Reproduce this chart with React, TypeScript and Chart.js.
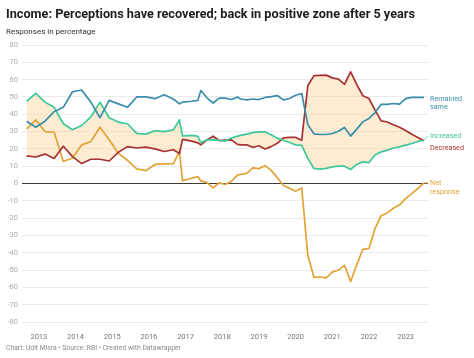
import React, { useEffect, useRef } from 'react';
import { Chart, registerables } from 'chart.js';

Chart.register(...registerables);

const surveyDates = [
  '2012-09', '2012-12', '2013-03', '2013-06', '2013-09', '2013-12', '2014-03', '2014-06', '2014-09', '2014-12',
  '2015-03', '2015-06', '2015-09', '2015-12', '2016-03', '2016-06', '2016-09', '2016-11', '2016-12', '2017-03',
  '2017-05', '2017-06', '2017-08', '2017-10', '2017-12', '2018-02', '2018-04', '2018-06', '2018-07', '2018-09',
  '2018-11', '2019-01', '2019-03', '2019-05', '2019-07', '2019-09', '2019-11', '2020-01', '2020-03', '2020-05',
  '2020-07', '2020-09', '2020-11', '2021-01', '2021-03', '2021-05', '2021-07', '2021-09', '2021-11', '2022-01',
  '2022-03', '2022-05', '2022-07', '2022-09', '2022-11', '2023-01', '2023-03', '2023-05', '2023-07',
];

const remainedSame = [
  36, 32.5, 36, 41.5, 44, 53, 54, 47, 38, 48,
  46, 44, 50, 50, 49, 51.3, 48.8, 46, 47, 47.5,
  48, 53.7, 49.5, 46.5, 49.3, 49.3, 48.5, 50, 48.8, 48.3,
  48.8, 48.5, 49.7, 50.2, 50.8, 48.3, 49.1, 51, 52, 34,
  28.7, 28.3, 28.3, 28.9, 30.2, 32.4, 27.4, 31.4, 35.6, 37.6,
  41, 45.7, 45.7, 46.2, 45.8, 49, 49.7, 49.7, 49.7,
];

const increased = [
  47.5, 52, 47, 44, 34.5, 31, 33.5, 38.5, 47, 38,
  35.5, 34.5, 29, 28.5, 30.5, 30, 31, 36.8, 27.5, 27.8,
  27.3, 23.5, 25.3, 25, 25, 24.5, 26.3, 27.4, 27.8, 28.5,
  29.4, 29.8, 29.8, 28.2, 26.2, 25, 23.7, 22.3, 22, 14.5,
  8.7, 8.3, 8.7, 9.6, 10, 10, 8.1, 11, 12.5, 12.1,
  16.5, 18.3, 19.3, 20.5, 21.2, 22.2, 23.1, 24.3, 25,
];

const decreased = [
  16, 15.3, 17, 14.5, 21.5, 15.5, 11.5, 14, 14, 13,
  18, 21.3, 20.5, 21, 20, 18.5, 19.5, 17.3, 25.5, 24.5,
  23.5, 22.3, 25.2, 27.3, 24.8, 25, 25.2, 22.6, 22.3, 22.3,
  20.9, 21.8, 19.9, 21.3, 23.2, 26.4, 26.6, 26.6, 25, 56.5,
  62.3, 62.5, 62.6, 61, 60.3, 57.2, 64.5, 57.2, 50.7, 49.1,
  42.4, 36.2, 35.5, 33.9, 32.5, 30.6, 28.4, 26.6, 24.7,
];

const netResponse = [
  31.5, 36.7, 30, 29.6, 12.7, 14.7, 22.3, 24.3, 32.5, 25.3,
  17.4, 13.4, 8.4, 7.4, 11, 11.3, 11.4, 18.5, 1.5, 3,
  4, 1.5, 0.5, -2.5, 0.4, -0.6, 1.3, 4.8, 5.2, 5.8,
  9, 8.6, 10.3, 7.6, 3.4, -1.2, -2.8, -4.5, -2.6, -41.5,
  -54.2, -54, -54.5, -51.2, -50, -47.3, -56.6, -47, -38, -37.5,
  -26, -18.6, -17, -14.3, -12.3, -8.7, -5.8, -2.9, 0.3,
];

const yearTicks = [2013, 2014, 2015, 2016, 2017, 2018, 2019, 2020, 2021, 2022, 2023];

const TITLE = 'Income: Perceptions have recovered; back in positive zone after 5 years';
const SUBTITLE = 'Responses in percentage';
const FOOTER = 'Chart: Udit Misra • Source: RBI • Created with Datawrapper';

const TEAL = '#3a8dab';
const GREEN = '#3ec79a';
const RED = '#a83232';
const ORANGE = '#e2a334';
const FILL = 'rgba(252, 216, 160, 0.48)';
const FONT = 'Roboto, "Noto Sans", sans-serif';

function toYear(d: string): number {
  const [y, m] = d.split('-').map(Number);
  return y + (m - 1) / 12;
}

function pts(values: number[]) {
  return values.map((v, i) => ({ x: toYear(surveyDates[i]), y: v }));
}

const annotations = {
  id: 'annotations',
  afterDraw(chart: any) {
    const { ctx, scales } = chart;
    const x = scales.x;
    const y = scales.y;
    const last = surveyDates.length - 1;
    const lastX = x.getPixelForValue(toYear(surveyDates[last]));
    const lx = 430;
    ctx.save();
    ctx.textAlign = 'left';
    ctx.textBaseline = 'alphabetic';

    ctx.fillStyle = '#1d1d1d';
    ctx.font = `bold 12.7px ${FONT}`;
    ctx.fillText(TITLE, 6, 18);
    ctx.fillStyle = '#333';
    ctx.font = `8px ${FONT}`;
    ctx.fillText(SUBTITLE, 6, 34);
    ctx.fillStyle = '#8a8a8a';
    ctx.font = `6.8px ${FONT}`;
    ctx.fillText(FOOTER, 6, 350);

    ctx.textBaseline = 'middle';
    ctx.font = `7.2px ${FONT}`;

    const yT = y.getPixelForValue(remainedSame[last]);
    ctx.fillStyle = TEAL;
    ctx.fillText('Remained', lx, yT + 1.5);
    ctx.fillText('same', lx, yT + 10);

    const yG = y.getPixelForValue(increased[last]);
    ctx.strokeStyle = GREEN;
    ctx.lineWidth = 0.8;
    ctx.beginPath();
    ctx.moveTo(lastX, yG);
    ctx.lineTo(lx - 2, yG - 4);
    ctx.stroke();
    ctx.fillStyle = GREEN;
    ctx.fillText('Increased', lx, yG - 4);

    const yR = y.getPixelForValue(decreased[last]);
    ctx.fillStyle = RED;
    ctx.fillText('Decreased', lx, yR + 7);

    const yN = y.getPixelForValue(netResponse[last]);
    ctx.strokeStyle = ORANGE;
    ctx.beginPath();
    ctx.moveTo(lastX, yN);
    ctx.lineTo(lx - 2, yN);
    ctx.stroke();
    ctx.fillStyle = ORANGE;
    ctx.fillText('Net', lx, yN + 0.5);
    ctx.fillText('response', lx, yN + 9);
    ctx.restore();
  },
};

export default function App() {
  const ref = useRef<HTMLCanvasElement | null>(null);

  useEffect(() => {
    if (!ref.current) return;
    const chart = new Chart(ref.current, {
      type: 'line',
      data: {
        datasets: [
          { label: 'Remained same', data: pts(remainedSame), borderColor: TEAL, fill: false },
          {
            label: 'Increased',
            data: pts(increased),
            borderColor: GREEN,
            fill: { target: 2, above: FILL, below: FILL },
          },
          { label: 'Decreased', data: pts(decreased), borderColor: RED, fill: false },
          { label: 'Net response', data: pts(netResponse), borderColor: ORANGE, fill: false },
        ],
      },
      options: {
        animation: false,
        responsive: false,
        maintainAspectRatio: false,
        layout: { padding: { top: 45, right: 46, bottom: 0, left: 0 } },
        elements: {
          point: { radius: 0, hoverRadius: 0 },
          line: { tension: 0, borderWidth: 1.7, borderJoinStyle: 'round' },
        },
        plugins: {
          legend: { display: false },
          tooltip: { enabled: false },
          title: { display: false },
          filler: { drawTime: 'beforeDatasetsDraw' },
        } as any,
        scales: {
          x: {
            type: 'linear',
            min: 2012.54,
            max: 2023.61,
            grid: { display: false },
            border: { display: false },
            afterBuildTicks: (s: any) => {
              s.ticks = yearTicks.map((v) => ({ value: v }));
            },
            afterFit: (s: any) => {
              s.height = 36;
            },
            ticks: {
              callback: (v: any) => String(v),
              font: { family: FONT, size: 7.5 },
              color: '#777',
              padding: 3,
              maxRotation: 0,
              autoSkip: false,
            },
          },
          y: {
            min: -80,
            max: 80,
            border: { display: false },
            grid: {
              color: (c: any) => (c.tick && c.tick.value === 0 ? '#3a3a3a' : '#ebebeb'),
              lineWidth: 1,
              drawTicks: false,
            },
            afterFit: (s: any) => {
              s.width = 22;
            },
            ticks: {
              stepSize: 10,
              font: { family: FONT, size: 7.5 },
              color: '#ababab',
              padding: 4,
            },
          },
        },
      },
      plugins: [annotations],
    });
    return () => chart.destroy();
  }, []);

  return (
    <div style={{ position: 'fixed', left: 0, top: 0, width: 474, height: 358, background: '#fff' }}>
      <canvas ref={ref} width={474} height={358} style={{ display: 'block', width: 474, height: 358 }} />
    </div>
  );
}
